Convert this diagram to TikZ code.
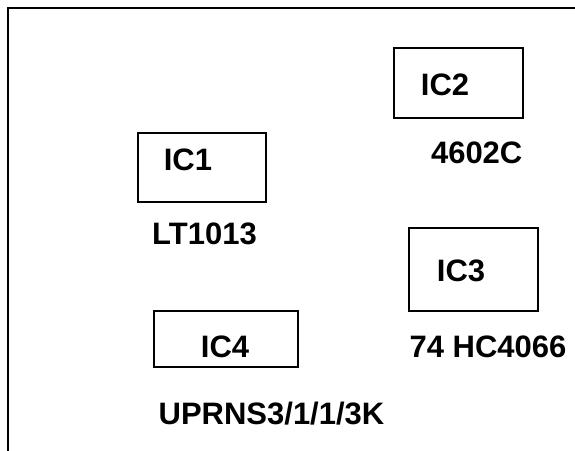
\documentclass[tikz,border=0pt]{standalone}
\usepackage{fontspec}
\setmainfont{Liberation Sans}
\begin{document}
\begin{tikzpicture}[x=1pt,y=-1pt,
  chip/.style={draw, line width=1.5pt, inner sep=0pt, anchor=north west},
  lbl/.style={font=\fontsize{31}{34}\selectfont\bfseries, inner sep=0pt, anchor=base},
  frame/.style={line width=2pt}]
\useasboundingbox (0,0) rectangle (575,450);
\coordinate (fb) at (8.3,451);
\coordinate (fc) at (8.3,8.3);
\coordinate (fr) at (576,8.3);
\draw[frame] (fb) -- (fc) -- (fr);
% boxes
\node[chip, minimum width=128pt, minimum height=69pt] (b1) at (137,132) {};
\node[chip, minimum width=129pt, minimum height=70pt] (b2) at (393,47) {};
\node[chip, minimum width=129pt, minimum height=83pt] (b3) at (408,227) {};
\node[chip, minimum width=144pt, minimum height=56pt] (b4) at (153,310) {};
% labels
\node[lbl] (t1) at (188,170) {IC1};
\node[lbl] (p1) at (204.5,244) {LT1013};
\node[lbl] (t2) at (445,95) {IC2};
\node[lbl] (p2) at (476.7,163) {4602C};
\node[lbl] (t3) at (461,281) {IC3};
\node[lbl] (p3) at (488,357) {74 HC4066};
\node[lbl] (t4) at (225,357) {IC4};
\node[lbl] (p4) at (271.5,424) {UPRNS3/1/1/3K};
\end{tikzpicture}
\end{document}
